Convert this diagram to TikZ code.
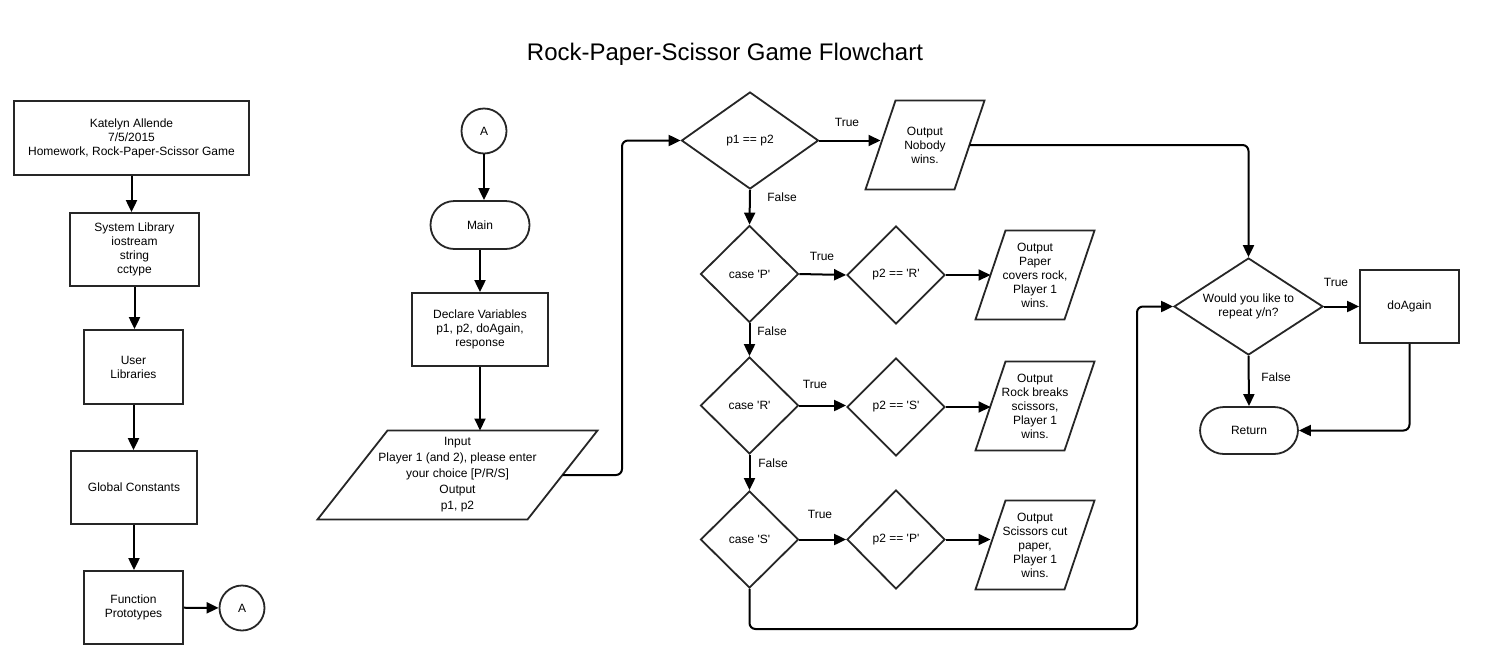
\documentclass[tikz,border=0pt]{standalone}
\usepackage{fontspec}
\setmainfont{Liberation Sans}[Ligatures=TeXOff]
\usetikzlibrary{shapes.geometric,arrows.meta}
% #1 options, #2 name, #3 x, #4 y, #5 width, #6 height, #7 slant, #8 text
\newcommand{\mypara}[8][]{%
  \node[ptext,#1] (#2) at (#3,#4) {#8};
  \draw[pshape] (#3-#5/2,#4+#6/2) -- (#3+#5/2-#7,#4+#6/2) -- (#3+#5/2,#4-#6/2) -- (#3-#5/2+#7,#4-#6/2) -- cycle;
  \coordinate (#2L) at (#3-#5/2+#7/2,#4);
  \coordinate (#2R) at (#3+#5/2-#7/2,#4);
  \coordinate (#2T) at (#3+#7/2,#4-#6/2);
}
\begin{document}
\begin{tikzpicture}[x=1pt,y=-1pt,
  every node/.style={font=\fontsize{12}{14}\selectfont, inner sep=0pt, align=center, text=black},
  box/.style={draw=black!85, line width=1.8pt, rectangle},
  dia/.style={draw=black!85, line width=1.8pt, diamond, aspect=1.5},
  pshape/.style={draw=black!85, line width=1.8pt, line join=miter},
  ptext/.style={},
  term/.style={draw=black!85, line width=1.8pt, rectangle, rounded corners=24pt},
  circ/.style={draw=black!85, line width=1.8pt, circle, minimum size=45pt},
  conn/.style={draw=black, line width=2pt, -{Triangle[length=12pt,width=11pt]}},
  lbl/.style={}
]
\fill[white] (0,0) rectangle (1486,665);
\useasboundingbox (0,0) rectangle (1486,665);

% title
\node[font=\fontsize{24}{28}\selectfont] (title) at (725,54) {Rock-Paper-Scissor Game Flowchart};

% left column
\node[box, minimum width=235pt, minimum height=74pt] (b1) at (131.5,138) {Katelyn Allende\\7/5/2015\\Homework, Rock-Paper-Scissor Game};
\node[box, minimum width=129pt, minimum height=73pt] (b2) at (134.5,249.5) {System Library\\iostream\\string\\cctype};
\node[box, minimum width=99pt, minimum height=74pt] (b3) at (133.5,367) {User\\Libraries};
\node[box, minimum width=126pt, minimum height=73pt] (b4) at (134,487.5) {Global Constants};
\node[box, minimum width=99pt, minimum height=73pt] (b5) at (133.5,607.5) {Function\\Prototypes};
\node[circ] (A1) at (242,608) {A};

\draw[conn] (b1.south) -- (b1.south |- b2.north);
\draw[conn] (b2.south) -- (b2.south |- b3.north);
\draw[conn] (b3.south) -- (b3.south |- b4.north);
\draw[conn] (b4.south) -- (b4.south |- b5.north);
\draw[conn] (b5) -- (A1);

% middle column
\node[circ] (A2) at (484,131) {A};
\node[term, minimum width=99pt, minimum height=48pt] (main) at (480,225) {Main};
\node[box, minimum width=136pt, minimum height=73pt] (decl) at (480,329.5) {Declare Variables\\p1, p2, doAgain,\\response};
\mypara[font=\fontsize{12}{16}\selectfont]{input}{457.5}{475}{280}{89}{70}{Input\\Player 1 (and 2), please enter\\your choice [P/R/S]\\Output\\p1, p2}

\draw[conn] (A2.south) -- (A2.south |- main.north);
\draw[conn] (main.south) -- (main.south |- decl.north);
\draw[conn] (decl.south) -- (decl.south |- inputT);

% decisions
\node[dia, minimum width=137pt, minimum height=97pt] (p1p2) at (750,140.5) {p1 == p2};
\mypara{nobody}{925}{145}{119}{89}{30}{Output\\Nobody\\wins.}

\node[dia, minimum width=98pt, minimum height=97pt] (caseP) at (749.5,274) {case 'P'};
\node[dia, minimum width=98pt, minimum height=98pt] (p2R) at (896,275) {p2 == 'R'};
\mypara{paper}{1035}{275}{119}{89}{30}{Output\\Paper\\covers rock,\\Player 1\\wins.}

\node[dia, minimum width=98pt, minimum height=97pt] (caseR) at (749.5,405.5) {case 'R'};
\node[dia, minimum width=98pt, minimum height=98pt] (p2S) at (896,407) {p2 == 'S'};
\mypara{rock}{1035}{406}{119}{89}{30}{Output\\Rock breaks\\scissors,\\Player 1\\wins.}

\node[dia, minimum width=98pt, minimum height=97pt] (caseS) at (749.5,539.5) {case 'S'};
\node[dia, minimum width=98pt, minimum height=99pt] (p2P) at (896,539.5) {p2 == 'P'};
\mypara{sciss}{1035}{545}{119}{89}{30}{Output\\Scissors cut\\paper,\\Player 1\\wins.}

% right part
\node[dia, minimum width=149pt, minimum height=97pt] (rep) at (1248.5,306.5) {Would you like to\\repeat y/n?};
\node[box, minimum width=99pt, minimum height=73pt] (again) at (1409.5,306.5) {doAgain};
\node[term, minimum width=98pt, minimum height=47pt] (ret) at (1249,430.5) {Return};

\coordinate (turnA) at (622,140.5);
\coordinate (turnB) at (1137,629);

% connectors
\draw[conn, rounded corners=6pt] (inputR) -| (turnA) -- (p1p2.west);
\draw[conn] (p1p2.east) -- (p1p2.east -| nobodyL);
\draw[conn] (p1p2.south) -- (caseP.north);
\draw[conn] (caseP.east) -- (p2R.west);
\draw[conn] (p2R.east) -- (paperL);
\draw[conn] (caseP.south) -- (caseR.north);
\draw[conn] (caseR.east) -- (caseR.east -| p2S.west);
\draw[conn] (p2S.east) -- (p2S.east -| rockL);
\draw[conn] (caseR.south) -- (caseS.north);
\draw[conn] (caseS.east) -- (p2P.west);
\draw[conn] (p2P.east) -- (p2P.east -| scissL);
\draw[conn, rounded corners=6pt] (nobodyR) -| (rep.north);
\draw[conn, rounded corners=6pt] (caseS.south) |- (turnB) |- (rep.west);
\draw[conn] (rep.east) -- (again.west);
\draw[conn] (rep.south) -- (ret.north);
\draw[conn, rounded corners=6pt] (again.south) |- (ret.east);

% labels
\node[lbl] (t1) at (847,122) {True};
\node[lbl] (f1) at (782,197) {False};
\node[lbl] (t2) at (822,256) {True};
\node[lbl] (f2) at (772,331) {False};
\node[lbl] (t3) at (815,384) {True};
\node[lbl] (f3) at (773,463) {False};
\node[lbl] (t4) at (820,514) {True};
\node[lbl] (t5) at (1336,282) {True};
\node[lbl] (f5) at (1276,377) {False};
\end{tikzpicture}
\end{document}
